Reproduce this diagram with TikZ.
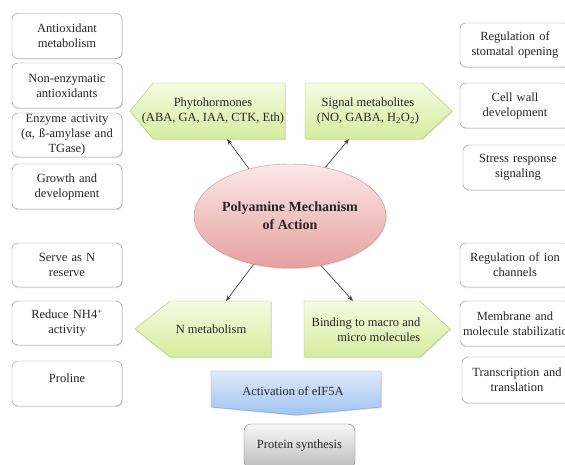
\documentclass[tikz,border=0pt]{standalone}
\usepackage{fontspec}
\setmainfont{Liberation Serif}
\usepackage{tikz}
\usetikzlibrary{arrows.meta,shapes.geometric,shadows}
\definecolor{boxgray}{HTML}{8C8C8C}
\definecolor{inkgray}{HTML}{262626}
\definecolor{leafline}{HTML}{A9C46A}
\definecolor{leaftop}{HTML}{F5FBE2}
\definecolor{leafbottom}{HTML}{D5ED9C}
\definecolor{rosetop}{HTML}{FBE8E8}
\definecolor{rosebottom}{HTML}{E7A0A0}
\definecolor{roseline}{HTML}{D08A88}
\definecolor{skytop}{HTML}{E0EAFA}
\definecolor{skybottom}{HTML}{A0C3F0}
\definecolor{skyline}{HTML}{7E9ED2}
\definecolor{ashtop}{HTML}{F7F7F7}
\definecolor{ashbottom}{HTML}{BDBDBD}

\begin{document}
\begin{tikzpicture}[x=1pt,y=-1pt,
  font=\fontsize{12.5}{15}\selectfont, text=inkgray,
  softshadow/.style={drop shadow={shadow xshift=0.8pt,shadow yshift=-1pt,opacity=0.25}},
  plainbox/.style={draw=boxgray, rounded corners=6pt, fill=white, minimum width=110pt,
    minimum height=45pt, text width=104pt, align=center, inner sep=0pt, softshadow},
  leafpent/.style={draw=leafline, top color=leaftop, bottom color=leafbottom, softshadow},
  lbl/.style={inner sep=0pt, align=center},
  link/.style={-{Stealth[length=6pt,width=4.5pt]}, draw=inkgray!85, line width=0.7pt}]
  \path[use as bounding box, clip] (0,0) rectangle (565,465);

  \node[plainbox] (antiox) at (67,36) {Antioxidant\\metabolism};
  \node[plainbox] (nonenz) at (67,85.5) {Non-enzymatic\\antioxidants};
  \node[plainbox, minimum height=44pt] (enzyme) at (67,135) {Enzyme activity\\(α, ß-amylase and\\TGase)};
  \node[plainbox] (growth) at (67,186.5) {Growth and\\development};
  \node[plainbox, minimum height=44pt] (nres) at (67,265) {Serve as N\\reserve};
  \node[plainbox, minimum height=44pt] (nh4) at (67,323) {Reduce NH4\textsuperscript{+}\\activity};
  \node[plainbox] (proline) at (67,383.5) {Proline\\[-4pt]\mbox{}};

  \node[plainbox, minimum height=44pt] (stomata) at (515,45) {Regulation of\\stomatal opening};
  \node[plainbox] (cellwall) at (515,105.5) {Cell wall\\development};
  \node[plainbox] (stress) at (518,167.5) {Stress response\\signaling};
  \node[plainbox, minimum height=44pt] (ionch) at (515,265) {Regulation of ion\\channels};
  \node[plainbox] (membrane) at (515,323.5) {Membrane and\\\mbox{molecule stabilization}};
  \node[plainbox, minimum height=46pt] (transc) at (517,380) {Transcription and\\translation};

  \path[leafpent] (153,83) -- (285,83) -- (285,139) -- (153,139) -- (130,111) -- cycle;
  \node[lbl] (phyto) at (213,111) {Phytohormones\\(ABA, GA, IAA, CTK, Eth)};
  \coordinate (phyto-in) at (227,139);

  \path[leafpent] (305,83) -- (422,83) -- (452,111) -- (422,139) -- (305,139) -- cycle;
  \node[lbl] (signal) at (368,111) {Signal metabolites\\(NO, GABA, H\textsubscript{2}O\textsubscript{2})};
  \coordinate (signal-in) at (349,139);

  \path[leafpent] (170,301) -- (271,301) -- (271,357) -- (170,357) -- (135,329) -- cycle;
  \node[lbl] (nmet) at (211,329) {N metabolism};
  \coordinate (nmet-in) at (226,301);

  \path[leafpent] (304,301) -- (420,301) -- (450,329) -- (420,357) -- (304,357) -- cycle;
  \node[lbl, align=right] (binding) at (366,330) {Binding to macro and\\micro molecules};
  \coordinate (binding-in) at (353,301);

  \node[ellipse, draw=roseline, top color=rosetop, bottom color=rosebottom, minimum width=192pt,
    minimum height=104pt, inner sep=0pt, align=center, softshadow,
    font=\bfseries\fontsize{14}{18}\selectfont] (pm) at (290,216) {Polyamine Mechanism\\of Action};

  \path[draw=skyline, top color=skytop, bottom color=skybottom, softshadow]
    (211,371) -- (381,371) -- (381,407) -- (296,415) -- (211,407) -- cycle;
  \node[lbl] (eif) at (293,391) {Activation of eIF5A};

  \node[draw=boxgray!80!black, rounded corners=7pt, top color=ashtop, bottom color=ashbottom,
    minimum width=111pt, minimum height=44pt, inner sep=0pt] (protein) at (299.5,446) {Protein synthesis};

  \draw[link] (pm.131) -- (phyto-in);
  \draw[link] (pm.54) -- (signal-in);
  \draw[link] (pm.233) -- (nmet-in);
  \draw[link] (pm.302) -- (binding-in);
\end{tikzpicture}
\end{document}
